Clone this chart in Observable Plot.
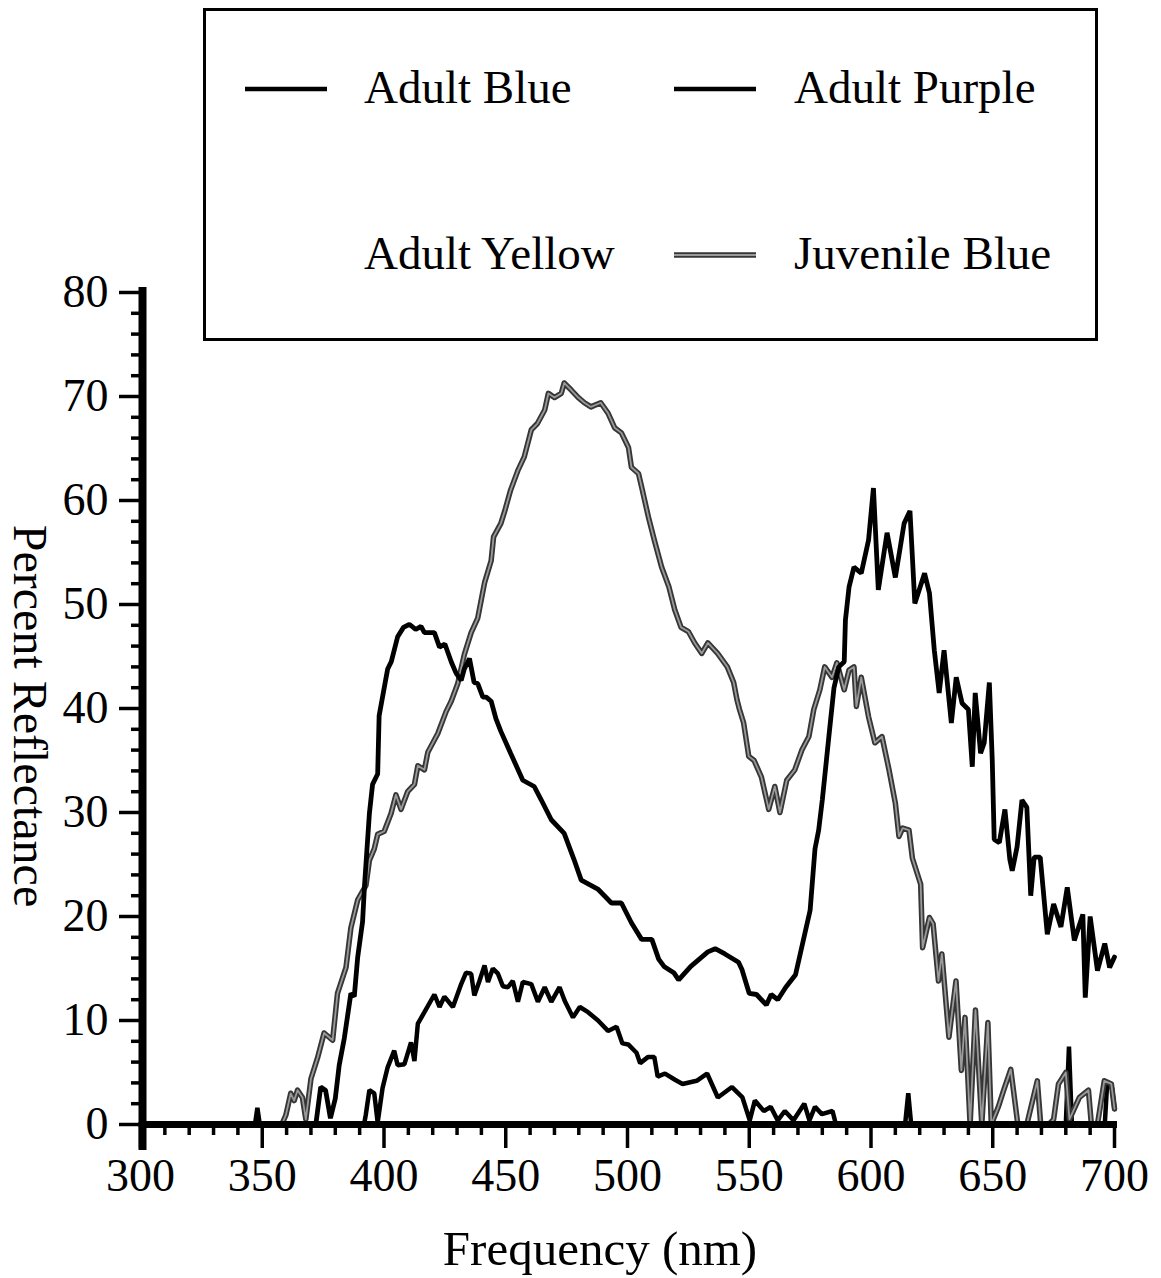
<!DOCTYPE html>
<html>
<head>
<meta charset="utf-8">
<script src="https://cdn.jsdelivr.net/npm/d3@7"></script>
<script src="https://cdn.jsdelivr.net/npm/@observablehq/plot@0.6"></script>
<style>
  html, body { margin: 0; padding: 0; background: #fff; }
  #wrap { position: relative; width: 1161px; height: 1278px; font-family: "Liberation Serif", "Times New Roman", serif; color: #000; }
  #chart { position: absolute; left: 0; top: 0; }
  #overlay { position: absolute; left: 0; top: 0; pointer-events: none; }
</style>
</head>
<body>
<div id="wrap">
  <div id="chart"></div>
  <svg id="overlay" width="1161" height="1278"></svg>
</div>
<script>
// ---------- data (wavelength nm, percent reflectance) ----------
const adultPurple = [
  [300,0],[372,0],[374,3.6],[376,3.3],[378,0.6],[380,2.5],[381.6,5.7],[383.7,8.3],[386.4,12.6],[387.8,12.3],
  [389.2,16.1],[391.2,19.5],[392,23],[394,29.9],[395.3,32.7],[397.4,33.7],[398,39.3],[401.5,43.8],[403,44.5],
  [405.6,46.9],[408,47.8],[410.4,48.1],[413,47.6],[415.2,47.9],[416.6,47.3],[420.7,47.3],[422.8,45.9],[425,46.2],
  [427.6,44.5],[429.6,43.4],[431.7,42.7],[433,43.8],[435.1,44.8],[437,42.5],[438.5,42.4],[440.6,41.1],[442,41.1],
  [444,40.7],[446,39],[448,37.8],[452,35.7],[457,33.1],[461.7,32.5],[464.6,31.2],[468.7,29.3],[474,28],[478,25.5],
  [481,23.5],[488,22.6],[493.4,21.3],[497.5,21.3],[501.6,19.4],[505.8,17.8],[510,17.8],[512.8,15.9],[515,15.2],
  [519,14.6],[521,13.9],[526,15.2],[533,16.6],[536,16.9],[540,16.4],[545.6,15.6],[547,14.9],[550,12.6],[553,12.5],
  [557,11.5],[559,12.5],[561.7,12],[565,13.2],[569,14.4],[572,17.5],[575,20.6],[577,26.5],[578.5,28.3],[580,31.2],
  [582.7,37.3],[584.8,42],[586.8,44],[589,44.5],[589.5,48.5],[591,51.7],[593,53.6],[596,53],[599,56.2],[601,61.2],
  [603,51.4],[606.6,56.9],[610,52.6],[613.6,57.8],[616,59],[618,50.1],[622,53],[624,51.1],[626,45.6],[628,41.5],
  [630,45.6],[633,38.6],[635,43],[637.4,40.5],[640,39.9],[641.6,34.4],[642.8,41.5],[645,35.7],[646.5,36.7],
  [648.6,42.5],[649.8,35],[650.6,27.4],[652.7,27.1],[655,30.3],[657,25.5],[658,24.4],[660,26.7],[662,31.2],
  [664,30.5],[665.6,22],[667,25.7],[669.5,25.7],[672.4,18.3],[675,21.2],[678,19],[680.6,22.8],[683.5,17.7],
  [687,20.2],[688,12.2],[690,20],[693,14.8],[696,17.4],[698,15.1],[700,16.1]
];
const juvenileBlue = [
  [300,0],[358,0],[359.7,0.9],[361.7,3],[363.1,2.3],[364.5,3.3],[366.5,2.6],[367.9,0.5],[370,4.4],[372.7,6.4],
  [375.4,8.8],[378.9,8.1],[380.9,12.6],[384.4,15.1],[386.4,18.9],[389.2,21.6],[392.6,23],[394,25.4],[396,26.5],
  [397.4,27.9],[400.1,28.2],[402.9,29.9],[404.9,31.7],[407,30.3],[409.7,32],[412.5,32.7],[413.9,34.5],[416.6,34.1],
  [418,35.8],[422.1,37.6],[425.5,39.7],[427.6,40.7],[430.3,42.4],[433,45.2],[435.8,47.3],[438.5,48.7],[441.3,52.1],
  [444,54.2],[445,56.5],[448,57.8],[449.6,59],[452,61],[455,62.9],[457.6,64.2],[460.5,66.8],[463,67.4],[466,68.7],
  [467.5,70.3],[470,69.9],[472.8,70.3],[474,71.3],[477,70.6],[479.8,69.9],[482.3,69.4],[485,69],[489,69.4],
  [492,68.4],[494.7,67],[497.5,66.5],[500.4,65.1],[501.6,63.2],[504.5,62.6],[505.8,61.3],[508.6,58.4],[511,56.2],
  [514,53.6],[517,51.7],[519.4,49.5],[522,47.8],[525,47.4],[527.6,46.3],[530.5,45.3],[533,46.3],[537,45.3],
  [541,44],[543.6,42.5],[545,40.8],[546,39.9],[547.7,38.6],[549.8,35.4],[552,35],[555,33.4],[558,30.3],[560.5,32.5],
  [562.6,30],[565.4,33.1],[568.7,34.1],[571.6,36],[574.5,37.3],[576.5,39.9],[579,41.8],[581,44],[584,43],[586,44.4],
  [589,41.8],[591,43.7],[593,44],[594,40.2],[596,43],[599,39.2],[601.6,36.7],[604.5,37.3],[607.4,34.1],[610,30.9],
  [611.5,27.7],[613,28.5],[615.6,28.3],[617,25.6],[620.4,23.1],[621.2,17],[624,19.9],[625.5,19.3],[627.7,13.8],
  [629.1,16.4],[632,8.4],[634.9,13.8],[637.1,5.2],[638.6,10.3],[640.7,0],[642.9,11],[645.5,0],[648,9.8],[649.4,0],
  [652.3,1.7],[654.5,3.3],[657.4,5.3],[660.3,0],[664,0],[668.3,4.2],[669.7,0],[673,0],[675,0.5],[677,3.9],[680,5],
  [681.5,0.5],[685.6,2.6],[689.3,3.3],[690.5,0],[693,0],[695.8,4.2],[698.7,3.9],[700,1.5]
];
const adultBlue = [
  [300,0],[347,0],[348,1.6],[349,0],[391.8,0],[392.5,0.9],[394,3.3],[396,3],[397.4,0.2],[399.4,3.5],[401.5,5.5],
  [404.2,7.1],[405.6,5.7],[408.4,5.8],[411.1,7.9],[412.5,6.1],[413.9,9.7],[416.6,10.8],[420.7,12.5],[422.8,11.3],
  [424.8,12.3],[428.3,11.3],[431.7,13.5],[433.7,14.6],[435.8,14.5],[437.1,12.4],[439.2,13.8],[441.3,15.3],
  [442.7,13.7],[444.7,15],[446.8,14.5],[448.8,13.3],[450.9,13.2],[452.9,13.8],[455,11.8],[457,13.7],[460.5,13.5],
  [463.2,11.8],[466,13.2],[468.7,11.8],[472.1,13.2],[474.2,11.9],[477.6,10.3],[480.4,11.3],[483.8,10.8],[487.9,10],
  [492,9],[495.5,9.4],[497.9,7.8],[500.3,7.7],[503.7,6.9],[505.2,5.9],[508.5,6.5],[511,6.5],[512.4,4.6],[515.4,4.9],
  [519.5,4.3],[522.6,3.9],[528.4,4.2],[532.7,4.9],[537.1,2.6],[542.9,3.6],[547.2,2.6],[550.2,0.4],[552.3,2.3],
  [556,1.3],[558.8,1.7],[561.7,0.4],[564.6,1.3],[568.2,0.4],[572.6,2],[574.7,0.4],[577,1.7],[579.8,1],[584.2,1.3],
  [585.6,0],[614,0],[615.3,3],[616.5,0],[680,0],[681.3,7.5],[682.5,0],[696,0],[697,4],[699,3.5],[700,1.5]
];
const legendLabels = ["Adult Blue", "Adult Purple", "Adult Yellow", "Juvenile Blue"];
const xTicks = [300, 350, 400, 450, 500, 550, 600, 650, 700];
const yTicks = [0, 10, 20, 30, 40, 50, 60, 70, 80];
const xLabel = "Frequency (nm)";
const yLabel = "Percent Reflectance";

// ---------- chart ----------
const toRows = (arr) => arr.map(([x, y]) => ({x, y}));
const xMinor = d3.range(300, 701, 10).filter(d => d % 50 !== 0);
const yMinor = d3.range(0, 81, 2).filter(d => d % 10 !== 0);
const FONT = "Liberation Serif, Times New Roman, serif";
const GRAY_OUT = "#363636", GRAY_IN = "#9a9a9a";

const chart = Plot.plot({
  width: 1161,
  height: 1278,
  marginLeft: 140,
  marginRight: 47,
  marginTop: 292,
  marginBottom: 154,
  style: {fontFamily: FONT, background: "transparent", color: "#000"},
  x: {domain: [300, 700]},
  y: {domain: [0, 80]},
  marks: [
    Plot.line(toRows(adultBlue), {x: "x", y: "y", stroke: "#000", strokeWidth: 4.5, strokeLinejoin: "miter"}),
    Plot.line(toRows(juvenileBlue), {x: "x", y: "y", stroke: GRAY_OUT, strokeWidth: 5.5}),
    Plot.line(toRows(juvenileBlue), {x: "x", y: "y", stroke: GRAY_IN, strokeWidth: 1.8}),
    Plot.line(toRows(adultPurple), {x: "x", y: "y", stroke: "#000", strokeWidth: 4.8, strokeLinejoin: "miter"}),
    Plot.axisX({ticks: xMinor, tickSize: 11, strokeWidth: 3.5, tickFormat: () => "", label: null}),
    Plot.axisX({ticks: xTicks, tickSize: 24, tickPadding: 10, strokeWidth: 3.5, fontSize: 46, tickFormat: d => String(d), label: null}),
    Plot.axisY({ticks: yMinor, tickSize: 9, strokeWidth: 3.5, tickFormat: () => "", label: null}),
    Plot.axisY({ticks: yTicks, tickSize: 21, tickPadding: 11, strokeWidth: 3.5, fontSize: 46, tickFormat: d => String(d), label: null}),
    Plot.ruleY([0], {stroke: "#000", strokeWidth: 7, insetRight: -3}),
    Plot.ruleX([300], {stroke: "#000", strokeWidth: 8, dx: 2, insetTop: -5, insetBottom: -26})
  ]
});
document.getElementById("chart").appendChild(chart);

// ---------- legend + axis titles overlay ----------
const ov = d3.select("#overlay");
ov.append("rect").attr("x", 204.5).attr("y", 9.5).attr("width", 892).attr("height", 330)
  .attr("fill", "#fff").attr("stroke", "#000").attr("stroke-width", 3);

const legendItems = [
  {label: legendLabels[0], lx: 245, tx: 364, y: 89, style: "black"},
  {label: legendLabels[1], lx: 674, tx: 794, y: 89, style: "black"},
  {label: legendLabels[2], lx: 245, tx: 364, y: 255, style: "none"},
  {label: legendLabels[3], lx: 674, tx: 794, y: 255, style: "gray"}
];
legendItems.forEach(it => {
  if (it.style === "black") {
    ov.append("line").attr("x1", it.lx).attr("x2", it.lx + 82).attr("y1", it.y).attr("y2", it.y)
      .attr("stroke", "#000").attr("stroke-width", 4.5);
  } else if (it.style === "gray") {
    ov.append("line").attr("x1", it.lx).attr("x2", it.lx + 82).attr("y1", it.y).attr("y2", it.y)
      .attr("stroke", GRAY_OUT).attr("stroke-width", 5.5);
    ov.append("line").attr("x1", it.lx).attr("x2", it.lx + 82).attr("y1", it.y).attr("y2", it.y)
      .attr("stroke", GRAY_IN).attr("stroke-width", 1.8);
  }
  ov.append("text").attr("x", it.tx).attr("y", it.y + 14)
    .attr("font-family", FONT).attr("font-size", 47).attr("fill", "#000").text(it.label);
});

ov.append("text").attr("x", 600).attr("y", 1265).attr("text-anchor", "middle")
  .attr("font-family", FONT).attr("font-size", 49).attr("fill", "#000").text(xLabel);
ov.append("text").attr("transform", "translate(14,716) rotate(90)").attr("text-anchor", "middle")
  .attr("font-family", FONT).attr("font-size", 48).attr("fill", "#000").text(yLabel);
</script>
</body>
</html>
